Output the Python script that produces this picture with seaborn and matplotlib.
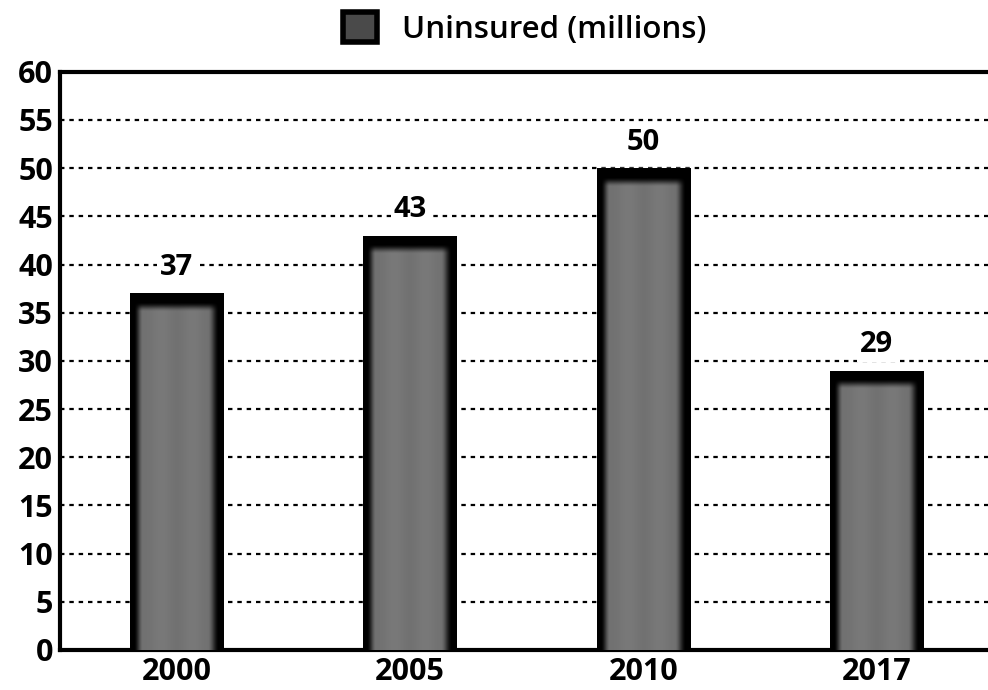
import numpy as np
import pandas as pd
import matplotlib
matplotlib.use('Agg')
import matplotlib.pyplot as plt
import seaborn as sns
from matplotlib.patches import Patch

years = ['2000', '2005', '2010', '2017']
uninsured = [37, 43, 50, 29]
yticks = list(range(0, 65, 5))
legend_label = 'Uninsured (millions)'

sns.set_style('white')
plt.rcParams['font.family'] = ['Open Sans', 'DejaVu Sans']
plt.rcParams['font.weight'] = 'semibold'
for k in ['text.color', 'axes.labelcolor', 'xtick.color', 'ytick.color']:
    plt.rcParams[k] = 'black'

fig = plt.figure(figsize=(9.88, 6.9), dpi=100)
ax = fig.add_axes([0.0607, 0.058, 0.945, 0.838])

df = pd.DataFrame({'year': years, 'value': uninsured})
sns.barplot(data=df, x='year', y='value', color='black', width=0.4,
            saturation=1, ax=ax, zorder=2)
ax.set_xlim(-0.5, 3.5)
ax.set_ylim(0, 60)
ax.set_yticks(yticks)
ax.set_xlabel('')
ax.set_ylabel('')
ax.tick_params(length=0, labelsize=22, pad=5, colors='black')
for lab in ax.get_xticklabels() + ax.get_yticklabels():
    lab.set_fontweight('bold')
ax.yaxis.grid(True, color='black', linestyle=(0, (2, 2.2)), linewidth=1.6, zorder=0)
ax.xaxis.grid(False)
ax.set_axisbelow(True)
for s in ['left', 'bottom', 'top']:
    ax.spines[s].set_visible(True)
    ax.spines[s].set_color('black')
    ax.spines[s].set_linewidth(3)
ax.spines['right'].set_visible(False)


def smooth(d, t0, t1):
    z = np.clip((d - t0) / (t1 - t0), 0, 1)
    return z * z * (3 - 2 * z)


# gradient fill (black rim, grey centre) inside each bar
for patch in ax.patches:
    bb = patch.get_bbox()
    (px0, py0), (px1, py1) = ax.transData.transform([[bb.x0, bb.y0], [bb.x1, bb.y1]])
    W = max(int(round(px1 - px0)), 2)
    H = max(int(round(py1 - py0)), 2)
    xs = np.arange(W) + 0.5
    ys = np.arange(H) + 0.5
    X, Y = np.meshgrid(xs, ys)
    f = smooth(X, 4, 13) * smooth(W - X, 5, 16) * smooth(Y, 9, 19)
    stripe = 1 + 0.03 * np.cos(X / W * 2 * np.pi * 3)
    val = 0.46 * f * stripe
    img = np.dstack([val, val, val])
    im = ax.imshow(img, extent=(bb.x0, bb.x1, bb.y0, bb.y1), origin='upper',
                   aspect='auto', zorder=3, interpolation='bilinear')
    im.set_clip_path(patch)

ax.set_xlim(-0.5, 3.5)
ax.set_ylim(0, 60)

ax.bar_label(ax.containers[0], padding=8, fontsize=21, fontweight='bold',
             color='black',
             bbox=dict(facecolor='white', edgecolor='none', pad=2), zorder=4)

handle = Patch(facecolor='#4a4a4a', edgecolor='black', linewidth=4, label=legend_label)
fig.legend(handles=[handle], loc='center', bbox_to_anchor=(0.531, 0.959),
           frameon=False, fontsize=22.5, handlelength=1.1, handleheight=1.1,
           handletextpad=0.8, labelcolor='black')

fig.savefig('out.png', dpi=100)
